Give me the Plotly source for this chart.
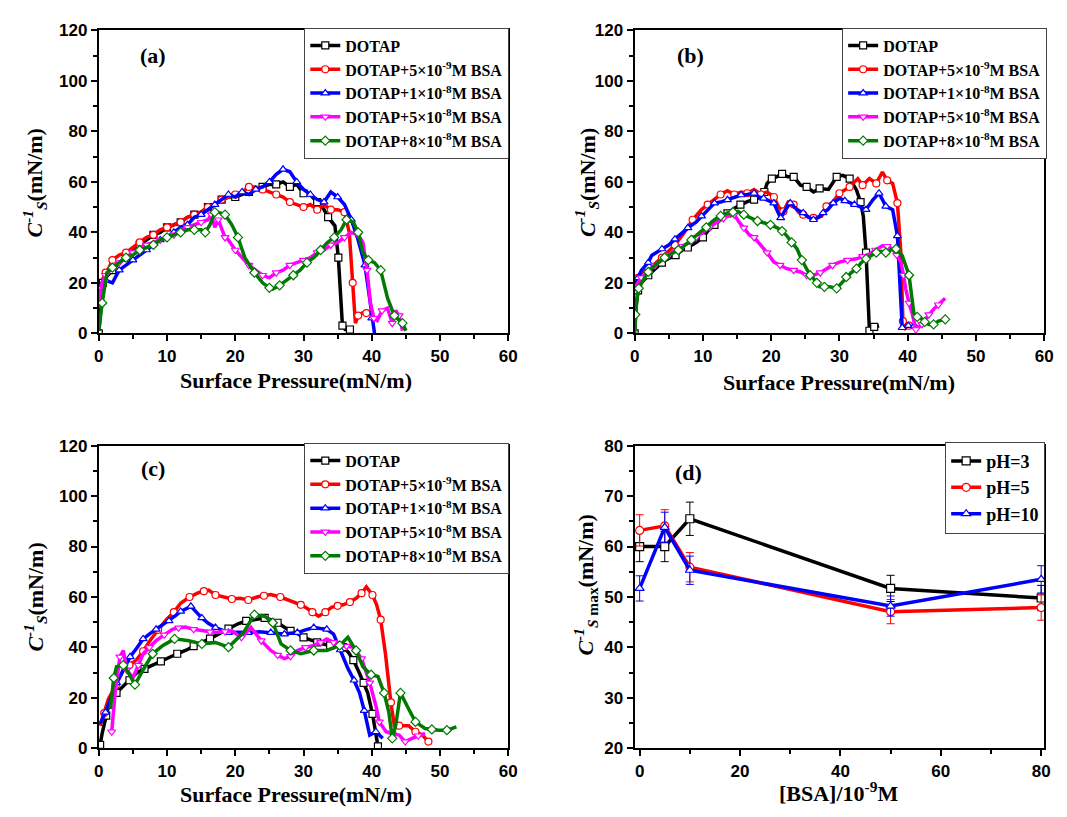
import plotly.graph_objects as go

# ---------------- Panel (a) ----------------
a_black_x = [0, 0.3, 0.6, 1, 2, 3, 4, 5, 6, 7, 8, 9, 10, 11, 12, 13, 14, 15, 16, 17, 18, 19, 20, 21, 22, 23, 24, 25, 26, 27, 28, 29, 30, 31, 32, 33, 33.6, 34.6, 35.1, 35.4, 35.7, 36.1, 36.8]
a_black_y = [0, 12, 20, 22, 25, 28, 30, 33, 35, 37, 39, 40, 42, 43, 44, 46, 47, 48, 50, 51, 53, 54, 54, 55, 56, 57, 58, 59, 59, 60, 58, 59, 55.5, 54.8, 52, 49, 46, 42.6, 30, 15, 3, 1.5, 1.5]
a_red_x = [0, 0.3, 0.7, 1, 1.5, 2, 3, 4, 5, 6, 7, 8, 9, 10, 11, 12, 13, 14, 15, 16, 17, 18, 19, 20, 21, 22, 23, 24, 25, 26, 27, 28, 29, 30, 31, 32, 33, 34, 35, 36, 36.7, 37.2, 37.6, 38, 38.6, 39.2]
a_red_y = [10, 18, 22, 24, 26, 29, 31, 32, 34, 36, 38, 39, 41, 42, 43, 44, 46, 47, 48, 50, 51, 53, 54, 55, 56, 58, 58, 57, 56, 55, 54, 52, 51, 50, 51, 49, 51, 49, 49, 48, 40, 20, 4, 7, 8, 8]
a_blue_x = [0, 0.3, 0.7, 1, 2, 3, 4, 5, 6, 7, 8, 9, 10, 11, 12, 13, 14, 15, 16, 17, 18, 19, 20, 21, 22, 23, 24, 25, 26, 27, 28, 29, 30, 31, 32, 33, 34, 35, 36, 37, 38, 39, 39.6, 40, 40.4]
a_blue_y = [12, 18, 22, 21, 20, 25, 27, 29, 31, 33, 35, 37, 38, 40, 42, 43, 46, 47, 49, 51, 53, 55, 54, 56, 55, 57, 58, 60, 63, 65, 64, 60, 57, 55, 53, 52, 56, 54, 51, 45, 37, 27, 15, 6, 0]
a_mag_x = [0, 0.5, 1, 2, 3, 4, 5, 6, 7, 8, 9, 10, 11, 12, 13, 14, 15, 16, 16.5, 17, 17.5, 18, 18.5, 19, 20, 21, 22, 23, 24, 25, 26, 27, 28, 29, 30, 31, 32, 33, 34, 35, 36, 37, 38, 38.7, 39.3, 39.8, 40.3, 40.8, 41.5, 42.3, 43, 43.5, 44, 44.5]
a_mag_y = [12, 20, 23, 26, 28, 30, 32, 34, 35, 36, 37, 38, 39, 41, 42, 43, 44, 45, 47, 42, 45, 41, 38, 37, 33, 30, 27, 25, 23, 22, 24, 25, 27, 28, 29, 30, 32, 33, 35, 36, 38, 40, 39, 36, 25, 12, 6, 5, 9, 10, 4, 9, 7, 1]
a_grn_x = [0, 0.5, 1.2, 2, 3, 4, 5, 6, 7, 8, 9, 10, 11, 12, 13, 14, 15, 15.6, 16.3, 17, 17.5, 18.5, 19.5, 20.4, 21.4, 22.8, 24, 25, 25.5, 26.5, 27.5, 28.5, 29.5, 30.5, 31.5, 32.5, 33.5, 34.5, 35.5, 36.3, 37.3, 38, 38.7, 39.5, 40.4, 41.3, 42.3, 43.3, 44, 44.5, 45]
a_grn_y = [1, 12, 24, 26, 28, 30, 31, 33, 34, 35, 37, 38, 39, 40, 41, 41, 41, 40, 43, 48, 48, 47, 43, 38, 30, 24, 20, 18, 17.5, 19, 21, 23, 25, 28, 30, 33, 36, 38, 41, 45, 44, 40, 32, 29, 28, 25, 14, 7, 5, 4, 1]

# ---------------- Panel (b) ----------------
b_black_x = [0, 0.2, 0.5, 1, 2, 2.75, 4, 4.9, 6, 7, 7.8, 9, 10, 10.7, 11.7, 12.7, 13.6, 14.6, 15.5, 16.5, 17.5, 18.5, 19, 19.4, 20.1, 20.8, 21.6, 22.4, 23.3, 24.3, 25.2, 26.2, 27.1, 28.4, 29.6, 30.5, 31.5, 32.5, 33.1, 33.5, 33.9, 34.2, 34.4, 34.5, 35.1, 35.8]
b_black_y = [0, 10, 17, 20, 23, 25, 28, 29.5, 31, 33, 34, 36, 38, 40.5, 43, 45.7, 47.5, 49.6, 51, 52.2, 53, 54, 56, 59.4, 61.3, 62, 63.2, 62, 62, 58.7, 58, 56, 57.4, 57, 62, 62.6, 61.3, 56.8, 52, 46.4, 32, 12.6, 1, 2, 2.5, 3]
b_red_x = [0, 0.5, 1, 2, 2.75, 4, 5, 5.9, 7.3, 8.5, 9.8, 10.7, 11.7, 12.6, 13.6, 14.6, 15.6, 16.5, 17.5, 18.5, 19.4, 20.4, 21.1, 21.8, 22.5, 23.3, 24, 24.7, 25.5, 26.2, 27.4, 28.1, 29.1, 30, 31, 31.5, 32.7, 33.4, 34.4, 35.4, 36.3, 37, 37.8, 38.5, 39, 39.3, 39.7, 40.2, 40.7]
b_red_y = [20, 22, 24, 26, 27, 30, 32.5, 35, 40, 45, 49, 51, 53, 55, 56.5, 55, 56, 55.5, 57, 55, 56, 54, 50, 48.3, 52, 51, 48, 47, 46, 45.7, 46.4, 50.3, 52.2, 55.5, 57, 58, 61.3, 58.7, 61.3, 59.4, 63.9, 60.6, 59.4, 51.6, 32, 4.8, 2, 3, 3]
b_blue_x = [0, 0.5, 1, 2, 2.5, 4, 5, 5.9, 7, 7.8, 9, 9.8, 10.7, 11.7, 12.6, 13.6, 14.6, 15.6, 16.5, 17.5, 18.2, 18.9, 19.7, 20.4, 21, 21.4, 22.1, 22.8, 23.8, 24.7, 25.5, 26.2, 27, 27.6, 28.3, 29.1, 30, 30.8, 31.5, 32.2, 32.9, 33.9, 34.9, 35.8, 36.3, 36.8, 37.8, 38.5, 39, 39.2, 39.6, 40.1, 40.6, 41]
b_blue_y = [19, 22, 25, 28, 30.8, 33.4, 35, 37.3, 40, 41.8, 44, 46.4, 49, 51.6, 52, 52.9, 54, 54.8, 55, 55.5, 54, 53.5, 52.5, 51.6, 48, 45.7, 49, 51.6, 49, 47.7, 46, 45, 46, 47.7, 49, 51.6, 53.5, 52.5, 51.6, 51, 50.3, 49, 52.9, 55.5, 53, 50.3, 49, 38.6, 12.6, 2.2, 2.5, 3, 2.5, 3]
b_mag_x = [0, 0.5, 1, 2, 3, 4, 5, 6, 7, 8, 9, 10, 11, 12, 13, 14, 14.6, 15.3, 16, 16.8, 17.5, 18.5, 19.4, 20.4, 21.3, 22.3, 23.3, 24.3, 25.2, 26.2, 27.2, 28.1, 29, 30, 31.2, 32.5, 33.4, 34.4, 35.3, 36.3, 37, 37.8, 38.4, 39, 39.4, 39.7, 40.2, 40.7, 41.2, 41.7, 42.1, 42.6, 43.1, 43.8, 44.5, 45.5]
b_mag_y = [18, 20, 22, 25, 27, 29, 31, 33, 34.5, 36, 38, 40, 42, 44, 45.5, 47, 47, 44, 41.8, 39, 38, 35, 32, 28.2, 27, 25.6, 25, 24.3, 23, 23, 24, 25.6, 27, 28.2, 29, 29.5, 30.5, 31.4, 33, 34.7, 34.5, 33.4, 31, 28.2, 23, 17.8, 12, 7.4, 1.5, 2.5, 3.5, 5.5, 7.4, 9.5, 11.3, 13.9]
b_grn_x = [0, 0.1, 0.3, 0.6, 1, 2, 3, 4.4, 5.5, 6.4, 7.3, 8.3, 9.3, 10.5, 11.7, 12.6, 13.6, 14.4, 15.1, 16, 17, 18, 18.9, 19.9, 20.9, 21.6, 22.3, 23, 23.8, 24.5, 25.2, 25.7, 26.2, 26.7, 27.1, 27.8, 28.6, 29.6, 30.3, 31, 31.7, 32.5, 33.2, 33.9, 34.7, 35.4, 36.1, 36.8, 37.5, 38.3, 39.2, 40.2, 40.9, 41.4, 41.9, 42.5, 43.1, 43.8, 44.5, 45.5]
b_grn_y = [0, 7.4, 13, 17.8, 20, 24.3, 27, 30, 31.5, 33, 34.7, 37, 39.2, 42, 45, 46.5, 47.7, 48, 48.3, 47, 45.7, 44.5, 43.8, 43, 41.8, 40.5, 38.6, 36, 33.4, 29, 25.6, 23, 21.7, 20, 18.4, 18.4, 18.4, 17.8, 20, 22.3, 24, 25.6, 28, 29.5, 31, 32, 32.5, 32, 33, 33.4, 30.8, 23, 8, 6.5, 6.1, 4.5, 3.5, 3.5, 4.8, 5.5]

# ---------------- Panel (c) ----------------
c_black_x = [0.2, 0.5, 1.1, 1.7, 2.6, 3.6, 4.5, 5.5, 6.7, 7.9, 9.1, 10.3, 11.5, 12.7, 13.9, 15.1, 16.3, 17.5, 19, 20.4, 21.6, 22.8, 24.3, 25.2, 26.2, 27.2, 28.1, 29.1, 30, 31, 32, 33, 33.9, 34.9, 35.8, 36.6, 37.3, 38.2, 38.8, 39.4, 40.1, 40.6, 40.9]
c_black_y = [1.4, 6, 13, 19.5, 22, 24.6, 27, 29.8, 31.5, 33, 34.5, 36.3, 37.5, 38.8, 40.5, 42, 43.5, 45.3, 47.5, 49.4, 50.5, 51.1, 51.7, 51, 49.8, 48, 46.6, 45.5, 44, 43, 42, 41.3, 40.8, 40.5, 40.1, 38, 35, 29.8, 26, 22, 13.7, 5.3, 0.8]
c_red_x = [0.2, 0.8, 1.4, 2.5, 3.6, 4.5, 5.5, 6.5, 7.5, 8.7, 9.9, 11, 12, 13.3, 14.7, 15.4, 16.1, 17.1, 18.3, 19.5, 20.7, 21.9, 23.3, 24.2, 25.2, 26.6, 28.1, 29.6, 30.5, 31.3, 32.2, 33.2, 34.1, 35, 35.8, 36.8, 37.7, 38.5, 39.2, 40.1, 40.7, 41.3, 42, 42.8, 43.3, 44, 45.4, 46.4, 47.4, 48.3]
c_red_y = [9, 14, 19.5, 25, 31, 33, 35, 38.5, 42.7, 47, 51, 54, 57.5, 60, 61.8, 62.3, 62.7, 60.8, 60, 59.2, 59.5, 58.8, 60.1, 60.5, 61, 60, 58.5, 56.9, 55.5, 54, 52.4, 54, 55.9, 56.5, 56.9, 58, 59.5, 61.5, 64, 60.8, 57, 51, 37.5, 18.2, 9, 9, 9, 6.6, 5.3, 2.7]
c_blue_x = [0.2, 1, 1.8, 2.6, 3.6, 4.6, 5.5, 6.5, 7.5, 8.4, 9.3, 10.3, 11.2, 12, 12.8, 13.5, 14.3, 15.1, 16.1, 17.1, 18, 19, 20.5, 21.9, 23.5, 25.2, 26.2, 27.2, 28.1, 29.1, 30.3, 31.5, 32.5, 33.4, 34.4, 35.4, 36.5, 37.4, 38.2, 38.9, 39.7, 40.6, 41.6]
c_blue_y = [9.8, 14.3, 20, 26, 31, 36.3, 39.5, 43.4, 45.5, 47.2, 49, 50.5, 52.5, 54.3, 55.5, 56.3, 54, 51.7, 49.5, 47.9, 47, 45.9, 46, 45.9, 46.2, 45.9, 45.5, 45.3, 45.6, 45.9, 47, 47.9, 47.5, 47.2, 45.3, 39, 31.7, 27, 22, 15, 5.3, 6.6, 4]
c_mag_x = [1.9, 2.4, 3.1, 3.6, 4.1, 5, 5.8, 6.5, 7.4, 8.4, 9.6, 10.8, 11.7, 12.7, 13.9, 15.1, 16.3, 17.5, 18.5, 19.5, 20.9, 22.3, 23.8, 25.2, 26.2, 27.2, 28.1, 29.1, 30.3, 31.5, 32.5, 33.4, 34.4, 35.3, 36.3, 37.3, 38.5, 39.1, 39.7, 40.6, 41.1, 42.1, 43, 44, 44.9, 45.9, 46.8, 47.8]
c_mag_y = [6.6, 22, 36.3, 38.8, 31.1, 27.9, 33, 37.5, 40, 42.7, 45, 47.2, 47.8, 48.1, 47.2, 46.6, 46.2, 45.9, 46.3, 46.6, 44, 47.9, 42.7, 38.8, 37, 35.6, 36.5, 38.8, 40, 40.8, 42, 43.4, 42, 40.8, 40.5, 40.1, 35.6, 31, 26, 16.9, 10.5, 6.6, 5.8, 5.3, 2.7, 4, 5, 5.9]
c_grn_x = [1.7, 2.2, 2.6, 3.6, 4.1, 5.3, 6.5, 7.9, 9.4, 11.1, 13.2, 15.1, 17.1, 19, 21.2, 22.8, 24.3, 25.5, 26.7, 28.1, 29.6, 31.5, 33.4, 35.3, 36.5, 37.7, 38.7, 39.9, 40.9, 41.8, 42.5, 43, 43.5, 44.2, 45.4, 46.4, 47.8, 48.8, 49.8, 51, 52.4]
c_grn_y = [15.6, 27.9, 32.4, 33, 31.1, 25.3, 31.1, 37.5, 40.8, 43.4, 42.7, 41.4, 42, 40.1, 45.9, 53, 52.4, 49.8, 41.4, 38.8, 37.5, 38.8, 38.8, 40.8, 44, 38.8, 32.4, 29.2, 28.5, 22, 14.3, 4, 9, 22, 15.6, 10.5, 7.9, 7.5, 7.2, 7.2, 8.5]

# ---------------- Panel (d) ----------------
bsa = [0, 5, 10, 50, 80]
ph3 = [60.0, 60.0, 65.5, 51.7, 49.8]
ph3_err = [3.0, 3.0, 3.3, 2.6, 2.5]
ph5 = [63.2, 64.1, 55.9, 47.1, 47.9]
ph5_err = [3.1, 3.2, 2.9, 2.4, 2.5]
ph10 = [51.7, 63.8, 55.3, 48.2, 53.5]
ph10_err = [2.5, 3.0, 2.8, 2.0, 2.7]

series_names = ["DOTAP", "DOTAP+5×10<sup>-9</sup>M BSA", "DOTAP+1×10<sup>-8</sup>M BSA",
                "DOTAP+5×10<sup>-8</sup>M BSA", "DOTAP+8×10<sup>-8</sup>M BSA"]
ph_names = ["pH=3", "pH=5", "pH=10"]

colors = ["#000000", "#FF0000", "#0000FF", "#FF00FF", "#007A00"]
symbols = ["square", "circle", "triangle-up", "triangle-down", "diamond"]

SERIF = "Liberation Serif"
SANS = "Liberation Sans"

fig = go.Figure()

panels = [
    ("x", "y", "legend", [(a_black_x, a_black_y), (a_red_x, a_red_y), (a_blue_x, a_blue_y), (a_mag_x, a_mag_y), (a_grn_x, a_grn_y)]),
    ("x2", "y2", "legend2", [(b_black_x, b_black_y), (b_red_x, b_red_y), (b_blue_x, b_blue_y), (b_mag_x, b_mag_y), (b_grn_x, b_grn_y)]),
    ("x3", "y3", "legend3", [(c_black_x, c_black_y), (c_red_x, c_red_y), (c_blue_x, c_blue_y), (c_mag_x, c_mag_y), (c_grn_x, c_grn_y)]),
]

for xa, ya, lg, data in panels:
    for i, (xs, ys) in enumerate(data):
        fig.add_trace(go.Scatter(
            x=xs, y=ys, xaxis=xa, yaxis=ya, legend=lg, name=series_names[i],
            mode="lines+markers",
            line=dict(color=colors[i], width=3.5),
            marker=dict(symbol=symbols[i], size=7, color="white",
                        line=dict(color=colors[i], width=1.2), maxdisplayed=30),
        ))

for i, (ys, es) in enumerate([(ph3, ph3_err), (ph5, ph5_err), (ph10, ph10_err)]):
    fig.add_trace(go.Scatter(
        x=bsa, y=ys, xaxis="x4", yaxis="y4", legend="legend4", name=ph_names[i],
        mode="lines+markers",
        line=dict(color=colors[i], width=3.5),
        marker=dict(symbol=symbols[i], size=8, color="white",
                    line=dict(color=colors[i], width=1.2)),
        error_y=dict(type="data", array=es, visible=True, color=colors[i], thickness=1, width=4),
    ))

W, H = 1067, 817
def px_x(p):
    return p / W
def px_y(p):
    return 1 - p / H

xdomL = [px_x(95), px_x(510)]
xdomR = [px_x(638), px_x(1053)]
ydomT = [px_y(332), px_y(22)]
ydomB = [px_y(757), px_y(447)]

tickfont = dict(family=SANS, size=17, color="black", weight="bold")
common = dict(showline=True, linecolor="black", linewidth=2, mirror=True, ticks="outside",
              ticklen=6, tickwidth=2, tickcolor="black", showgrid=False, zeroline=False,
              tickfont=tickfont)

def axis(dom, anchor, rng, dt, mdt):
    return dict(domain=dom, anchor=anchor, range=rng, dtick=dt, tick0=0,
                minor=dict(dtick=mdt, ticks="outside", ticklen=4, tickwidth=2, tickcolor="black"), **common)

legfont = dict(family=SERIF, size=16, color="black", weight="bold")
legcommon = dict(bgcolor="white", bordercolor="#444", borderwidth=1, font=legfont,
                 tracegroupgap=0, itemwidth=30, xanchor="right", yanchor="top")

fig.update_layout(
    width=W, height=H, margin=dict(l=0, r=0, t=0, b=0),
    paper_bgcolor="white", plot_bgcolor="white",
    xaxis=axis(xdomL, "y", [0, 60], 10, 5),
    yaxis=axis(ydomT, "x", [0, 120], 20, 10),
    xaxis2=axis(xdomR, "y2", [0, 60], 10, 5),
    yaxis2=axis(ydomT, "x2", [0, 120], 20, 10),
    xaxis3=axis(xdomL, "y3", [0, 60], 10, 5),
    yaxis3=axis(ydomB, "x3", [0, 120], 20, 10),
    xaxis4=axis(xdomR, "y4", [-1, 80.6], 20, 10),
    yaxis4=axis(ydomB, "x4", [20, 80], 10, 5),
    legend=dict(x=px_x(511), y=px_y(19), **legcommon),
    legend2=dict(x=px_x(1056), y=px_y(19), **legcommon),
    legend3=dict(x=px_x(511), y=px_y(444), **legcommon),
    legend4=dict(x=px_x(1054), y=px_y(443), bgcolor="white", bordercolor="#444", borderwidth=1,
                 font=dict(family=SERIF, size=18, color="black", weight="bold"),
                 tracegroupgap=0, itemwidth=30, xanchor="right", yanchor="top"),
)

ann = []
titlefont = dict(family=SERIF, size=22, color="black", weight="bold")
ylab = "<i>C</i><sup><i>-1</i></sup><sub><i>S</i></sub>(mN/m)"
ylab_d = "<i>C</i><sup><i>-1</i></sup><sub><i>S</i> max</sub>(mN/m)"
for (cx, cy, txt) in [(295, 380, "Surface Pressure(mN/m)"), (845, 382, "Surface Pressure(mN/m)"),
                      (295, 804, "Surface Pressure(mN/m)"), (845, 802, "[BSA]/10<sup>-9</sup>M")]:
    ann.append(dict(x=px_x(cx), y=px_y(cy), xref="paper", yref="paper", text=txt, showarrow=False,
                    font=titlefont, xanchor="center", yanchor="middle"))
for (cx, cy, txt) in [(30, 178, ylab), (590, 178, ylab), (30, 602, ylab), (588, 590, ylab_d)]:
    ann.append(dict(x=px_x(cx), y=px_y(cy), xref="paper", yref="paper", text=txt, showarrow=False,
                    font=titlefont, textangle=-90, xanchor="center", yanchor="middle"))
for (cx, cy, txt) in [(150, 48, "(a)"), (695, 48, "(b)"), (150, 470, "(c)"), (693, 475, "(d)")]:
    ann.append(dict(x=px_x(cx), y=px_y(cy), xref="paper", yref="paper", text=txt, showarrow=False,
                    font=dict(family=SERIF, size=22, color="black", weight="bold"),
                    xanchor="center", yanchor="middle"))
fig.update_layout(annotations=ann)

fig.write_html("out.html")
